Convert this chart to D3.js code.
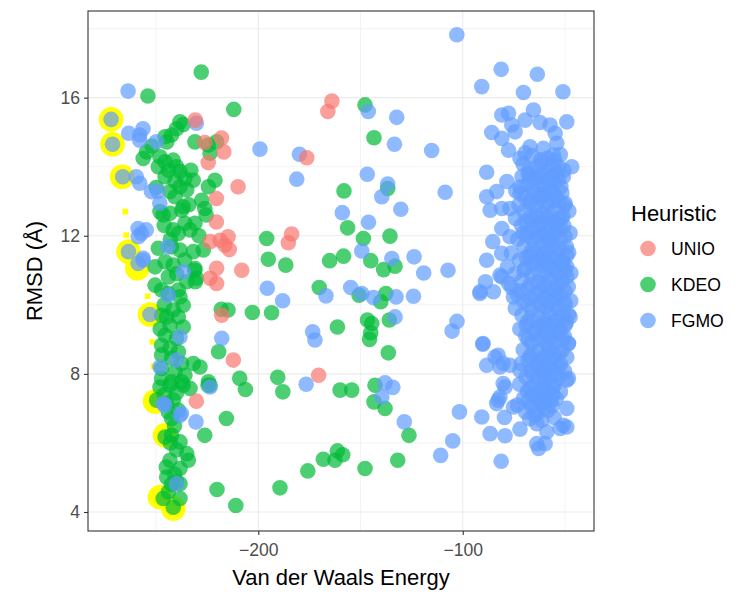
<!DOCTYPE html>
<html>
<head>
<meta charset="utf-8">
<script src="https://cdn.jsdelivr.net/npm/d3@7"></script>
<style>
  body { margin: 0; background: #fff; }
  text { font-family: "Liberation Sans", Arial, Helvetica, sans-serif; }
</style>
</head>
<body>
<script>
const width = 750;
const height = 600;

// Series and labels
const categories = ["UNIO", "KDEO", "FGMO"];
const colors = ["#F8766D", "#00BA38", "#619CFF"];

const unio = [
  [-164, 15.9], [-166, 15.6], [-176.3, 14.26], [-183.7, 12.05], [-185.3, 11.8],
  [-230.8, 15.35], [-218, 14.83], [-216.9, 14.43], [-224.5, 14.12], [-226.2, 14.7],
  [-209.9, 13.42], [-220.5, 13.08], [-220.5, 12.4], [-214.8, 11.97], [-223.6, 11.83],
  [-216.4, 11.73], [-214.2, 11.6], [-218.7, 11.87], [-220.4, 11.06], [-208.1, 11.0],
  [-223.6, 10.77], [-220.4, 10.62], [-217.9, 9.7], [-212.2, 8.4], [-230.3, 7.21],
  [-170.5, 7.96]
];

const kdeo = [
  // scattered
  [-227.9, 16.74], [-254, 16.05], [-212, 15.66], [-147.8, 15.79], [-143.4, 14.84],
  [-158.1, 13.3], [-136.7, 13.37], [-156.3, 12.23], [-195.9, 11.92], [-148.6, 11.92],
  [-135.6, 11.99], [-195.1, 11.32], [-186.6, 11.15], [-165.1, 11.28], [-158.3, 11.41],
  [-145, 11.28], [-138.7, 11.02], [-133.1, 11.12], [-170.2, 10.5], [-150.7, 10.28],
  [-137.6, 10.33], [-140.1, 10.09], [-193.5, 9.77], [-161.3, 9.36], [-146.6, 9.56],
  [-144.5, 9.46], [-135.9, 9.56], [-145, 9.19], [-145.6, 9.0], [-136.4, 8.61],
  [-190.5, 7.9], [-188, 7.48], [-160, 7.53], [-154.3, 7.53], [-142.9, 7.67],
  [-143.4, 7.19], [-138, 7.0], [-126.3, 6.22], [-168.2, 5.53], [-161.3, 5.77],
  [-158.7, 5.66], [-162.5, 5.5], [-175.8, 5.19], [-147.8, 5.26], [-131.8, 5.5],
  [-189.4, 4.7], [-202.9, 9.78], [-218.1, 9.87], [-214.8, 9.85], [-219.4, 8.64],
  [-209.1, 7.87], [-206.3, 7.55], [-224.6, 7.67], [-215.6, 6.71], [-226.2, 6.22],
  [-220.2, 4.65], [-211, 4.19], [-231.1, 11.0], [-230.8, 10.67],
  // upper column
  [-238.3, 15.3], [-236.7, 15.22], [-240, 15.1], [-245.6, 14.87], [-242.4, 14.92],
  [-244.8, 14.72], [-231, 14.72], [-224.4, 14.63], [-220.4, 14.72], [-223.6, 14.39],
  [-254.6, 14.43], [-256.3, 14.24], [-248.1, 14.29], [-245.6, 14.14], [-241.6, 14.19],
  [-240, 14.0], [-248.9, 14.0], [-244, 13.9], [-238.3, 13.86], [-245.6, 13.71],
  [-235.9, 13.66], [-240.7, 13.57], [-231.8, 13.61], [-238.3, 13.42], [-221.2, 13.61],
  [-224.4, 13.42], [-243.2, 13.28], [-235, 13.33], [-240.7, 13.13], [-227.7, 13.03],
  [-236.7, 12.84], [-226.2, 12.79], [-248.1, 12.7], [-246.5, 12.6], [-243.2, 12.65],
  [-237.5, 12.74], [-235.9, 12.36], [-231, 12.36], [-241.6, 12.17], [-239.1, 12.07],
  [-233.4, 12.17], [-225.5, 12.6], [-233, 13.9], [-250, 13.4], [-252, 14.6],
  [-246, 12.3], [-234, 12.9], [-229, 12.0],
  // middle column
  [-248.9, 11.64], [-242.4, 11.68], [-238.3, 11.59], [-231.8, 11.54], [-226.9, 11.59],
  [-250.5, 11.1], [-245.6, 11.25], [-241.6, 11.15], [-231, 11.05], [-230.2, 10.77],
  [-235, 10.67], [-244, 10.81], [-250.5, 10.57], [-247.3, 10.43], [-244, 10.33],
  [-239.1, 10.43], [-238.3, 10.23], [-236.7, 9.99], [-241.6, 9.85], [-247.3, 9.7],
  [-244.8, 9.65], [-239.1, 9.65], [-243.2, 9.41], [-236.7, 9.36], [-245.6, 9.12],
  [-240, 9.03], [-247.3, 8.83], [-243.2, 8.74], [-239.1, 8.64], [-247.3, 8.55],
  [-242.4, 8.45], [-237.5, 8.3], [-231.8, 8.3], [-228.5, 8.2], [-247.3, 8.16],
  [-240.7, 8.06], [-235.9, 7.96], [-247.3, 7.87], [-242.4, 7.77], [-237.5, 7.77],
  [-224.4, 7.77], [-243, 11.9], [-246, 10.0], [-240, 10.9], [-236, 11.3], [-248, 9.3],
  // lower column
  [-248.1, 7.62], [-243.2, 7.67], [-236.7, 7.67], [-233.4, 7.58], [-223.6, 7.67],
  [-249.7, 7.24], [-244.8, 7.14], [-241.6, 7.24], [-239.1, 6.95], [-242.4, 6.71],
  [-245.6, 6.17], [-242.4, 6.22], [-238.3, 6.03], [-235, 5.69], [-234.2, 5.5],
  [-243.2, 5.5], [-238.3, 5.26], [-244.8, 5.01], [-240, 4.87], [-238.3, 4.82],
  [-244, 4.58], [-238.3, 4.39], [-246.5, 4.39], [-241.6, 4.14], [-246, 7.4],
  [-240, 7.45], [-244, 6.9], [-241, 6.5], [-243, 6.0], [-240, 5.8], [-245, 5.3],
  [-241, 5.1], [-242.5, 4.8]
];

const fgmo = [
  // left group
  [-272, 15.37], [-271.3, 14.65], [-263.7, 16.19], [-263.4, 14.97], [-258, 14.92],
  [-256.4, 15.1], [-258, 14.77], [-249.9, 14.72], [-230.3, 15.26], [-199.2, 14.51],
  [-266.3, 13.71], [-259.7, 13.71], [-258, 13.52], [-252.3, 13.28], [-249.1, 13.28],
  [-248.2, 12.94], [-258.8, 12.21], [-254.8, 12.17], [-257.2, 12.07], [-244.2, 11.68],
  [-256.4, 11.29], [-258.8, 11.2], [-258.7, 11.97], [-263.5, 11.54], [-256.3, 11.35],
  [-236.7, 10.96], [-244, 10.28], [-253, 9.72], [-238.3, 9.07], [-240, 8.4],
  [-248.1, 8.2], [-217.9, 9.03], [-223.6, 7.62], [-246.5, 7.14], [-238.3, 6.8],
  [-230.5, 6.61], [-240, 4.82], [-245.8, 7.09], [-237.6, 6.85],
  // middle
  [-102.9, 17.82], [-179.9, 14.36], [-146.2, 15.6], [-132.3, 15.43], [-133.4, 14.65],
  [-115.2, 14.47], [-181.2, 13.64], [-146.7, 13.78], [-136.7, 13.5], [-139.6, 13.13],
  [-130.3, 12.77], [-108.6, 13.26], [-158.9, 12.67], [-146.1, 12.39], [-149.4, 11.56],
  [-134.7, 11.34], [-123.8, 11.39], [-119.1, 10.92], [-107.2, 11.0], [-195.6, 10.48],
  [-188.1, 10.12], [-166.9, 10.26], [-154.8, 10.5], [-149.4, 10.33], [-143.7, 10.21],
  [-132.6, 10.23], [-124.1, 10.25], [-133.1, 9.65], [-173.4, 9.22], [-172.3, 8.98],
  [-105.2, 9.24], [-102.8, 9.52], [-176.6, 7.7], [-138, 7.74], [-134.2, 7.61],
  [-139.6, 7.33], [-128.6, 6.61], [-101.6, 6.9], [-104.9, 6.06], [-110.8, 5.64],
  // right cluster, outer
  [-81.2, 16.82], [-63.5, 16.68], [-90.7, 16.32], [-70.3, 16.15], [-51, 16.17],
  [-49.1, 15.3], [-80.9, 15.5], [-77.6, 15.55], [-65.4, 15.64], [-69.5, 15.35],
  [-62.2, 15.28], [-76, 15.21], [-85.8, 14.99], [-80.9, 14.82], [-74.4, 15.01],
  [-57.3, 15.21], [-54.8, 14.97], [-54, 14.68], [-77.6, 14.48], [-67.1, 14.58],
  [-60.6, 14.53], [-72, 14.24], [-69.5, 14.4], [-55.6, 14.34], [-46.7, 14.0],
  [-53.2, 14.0], [-88.3, 13.84], [-50.8, 13.71], [-63.8, 14.0], [-62.2, 13.71],
  [-78.4, 13.57], [-83.4, 13.28], [-72, 13.42], [-67.1, 13.71], [-58.9, 13.42],
  [-88.3, 13.13], [-72, 13.23], [-60.6, 13.18], [-86.6, 12.74], [-80.9, 12.79],
  [-76.9, 12.79], [-67.1, 12.94], [-55.6, 13.03], [-49.9, 12.94], [-51.6, 12.5],
  [-67.1, 12.55], [-62.2, 12.36], [-80.9, 12.21], [-54, 12.31], [-85.3, 11.83],
  [-76.9, 11.97], [-70.4, 12.07], [-63.8, 11.97], [-57.3, 11.87], [-88.3, 11.29],
  [-80.9, 11.49], [-49.1, 11.44], [-50.8, 11.2], [-67.1, 11.39], [-60.6, 11.29],
  [-80.9, 10.81], [-88.9, 10.67], [-91.5, 10.38], [-85, 10.38], [-77.6, 10.62],
  [-75.2, 10.23], [-90.1, 8.88], [-84.2, 8.49], [-88.3, 8.25], [-80.2, 8.3],
  [-72, 8.1], [-80.2, 7.72], [-81.8, 7.33], [-83.4, 7.14], [-75.2, 7.04],
  [-90.7, 6.75], [-79.6, 6.74], [-86.6, 6.27], [-79.3, 6.21], [-72, 6.4],
  [-63.8, 6.56], [-58.9, 6.32], [-63.8, 5.98], [-49.1, 7.0], [-50.8, 6.51],
  [-49.1, 7.82], [-48.3, 8.88], [-47.5, 9.65], [-49.1, 10.81], [-81.8, 10.86],
  [-91.6, 10.33], [-90.2, 8.86], [-82.7, 8.54], [-81.8, 8.2], [-76.9, 8.25],
  [-48.3, 7.87], [-82.7, 7.24], [-79.3, 7.62], [-62.9, 5.84], [-59.7, 5.98],
  [-49.1, 6.46], [-52.4, 6.42], [-81.2, 5.47],
  // right cluster, core
  [-66, 14.32], [-58.5, 14.25], [-52.3, 14.35], [-70.5, 14.08], [-61.2, 14.12], [-56.5, 14.05],
  [-67.4, 13.92], [-59.1, 13.86], [-50.5, 13.9], [-71, 13.72], [-64.3, 13.66], [-56, 13.74],
  [-53.2, 13.62], [-68.1, 13.5], [-60.5, 13.46], [-55.2, 13.54], [-74, 13.3], [-65.3, 13.28],
  [-57.1, 13.34], [-51.5, 13.24], [-69.4, 13.1], [-62.2, 13.06], [-54.3, 13.14], [-72.5, 12.9],
  [-64.1, 12.86], [-58.3, 12.94], [-50.2, 12.88], [-70.2, 12.7], [-61, 12.66], [-55.4, 12.74],
  [-48.1, 12.72], [-74.2, 12.5], [-66.3, 12.46], [-59.2, 12.54], [-53.1, 12.48], [-71.3, 12.3],
  [-63.2, 12.26], [-57.4, 12.34], [-50.5, 12.28], [-68.3, 12.1], [-60.1, 12.06], [-54.2, 12.14],
  [-47.5, 12.08], [-73.1, 11.9], [-65.4, 11.86], [-58.2, 11.94], [-52.3, 11.88], [-70.1, 11.7],
  [-62.4, 11.66], [-56.2, 11.74], [-49.3, 11.68], [-76.2, 11.5], [-67.1, 11.46], [-60.3, 11.54],
  [-54.1, 11.48], [-48.2, 11.52], [-72.3, 11.3], [-64.2, 11.26], [-57.5, 11.34], [-51.2, 11.28],
  [-78.1, 11.1], [-69.3, 11.06], [-61.2, 11.14], [-55.4, 11.08], [-49.2, 11.12], [-74.4, 10.9],
  [-66.1, 10.86], [-59.3, 10.94], [-53.2, 10.88], [-47.1, 10.92], [-71.2, 10.7], [-63.4, 10.66],
  [-57.2, 10.74], [-51.3, 10.68], [-76.1, 10.5], [-68.2, 10.46], [-60.4, 10.54], [-54.3, 10.48],
  [-48.4, 10.52], [-73.2, 10.3], [-65.1, 10.26], [-58.4, 10.34], [-52.2, 10.28], [-70.3, 10.1],
  [-62.1, 10.06], [-56.3, 10.14], [-50.1, 10.08], [-47.2, 10.12], [-74.3, 9.9], [-66.2, 9.86],
  [-59.1, 9.94], [-53.4, 9.88], [-71.1, 9.7], [-63.3, 9.66], [-57.3, 9.74], [-51.1, 9.68],
  [-48.2, 9.72], [-68.3, 9.5], [-60.2, 9.46], [-55.1, 9.54], [-49.4, 9.48], [-72.1, 9.3],
  [-64.4, 9.26], [-58.1, 9.34], [-52.4, 9.28], [-69.2, 9.1], [-61.3, 9.06], [-56.1, 9.14],
  [-50.3, 9.08], [-66.4, 8.9], [-59.2, 8.86], [-54.4, 8.94], [-48.3, 8.88], [-70.4, 8.7],
  [-63.1, 8.66], [-57.4, 8.74], [-51.4, 8.68], [-67.2, 8.5], [-60.3, 8.46], [-55.3, 8.54],
  [-49.1, 8.48], [-71.4, 8.3], [-64.3, 8.26], [-58.2, 8.34], [-52.1, 8.28], [-66.3, 8.1],
  [-61.4, 8.06], [-56.4, 8.14], [-50.2, 8.08], [-69.1, 7.9], [-63.2, 7.86], [-57.2, 7.94],
  [-53.3, 7.88], [-72.2, 7.7], [-65.2, 7.66], [-60.1, 7.74], [-55.2, 7.68], [-68.4, 7.5],
  [-62.3, 7.46], [-58.4, 7.54], [-52.2, 7.48], [-70.2, 7.3], [-64.1, 7.26], [-59.3, 7.34],
  [-54.2, 7.28], [-73.3, 7.1], [-66.4, 7.06], [-61.1, 7.14], [-56.3, 7.08], [-69.3, 6.9],
  [-63.4, 6.86], [-58.3, 6.94], [-67.3, 6.7], [-61.3, 6.66], [-55.3, 6.74],
  // right cluster, core fill
  [-62, 14.2], [-55, 14.18], [-68, 13.8], [-61.5, 13.78], [-54, 13.82], [-58, 13.58],
  [-66, 13.4], [-52, 13.42], [-62, 13.2], [-56, 13.22], [-67, 13.0], [-60, 12.98],
  [-53, 13.0], [-64, 12.6], [-57, 12.62], [-51, 12.58], [-69, 12.4], [-61, 12.4],
  [-55, 12.38], [-66, 12.2], [-58, 12.18], [-52, 12.2], [-69, 12.0], [-62, 11.98],
  [-56, 12.0], [-50, 11.98], [-66, 11.6], [-59, 11.58], [-53, 11.62], [-69, 11.38],
  [-61, 11.4], [-55, 11.36], [-66, 11.2], [-58, 11.18], [-52, 11.2], [-70, 11.0],
  [-63, 10.98], [-56, 11.0], [-50, 10.98], [-67, 10.6], [-60, 10.62], [-54, 10.6],
  [-72, 10.4], [-62, 10.4], [-56, 10.38], [-50, 10.4], [-67, 10.2], [-60, 10.18],
  [-54, 10.2], [-68, 10.0], [-62, 9.98], [-56, 10.0], [-50, 9.98], [-67, 9.6],
  [-60, 9.58], [-53, 9.6], [-69, 9.4], [-62, 9.38], [-56, 9.4], [-50, 9.4],
  [-65, 9.2], [-59, 9.18], [-53, 9.2], [-68, 9.0], [-63, 8.98], [-57, 9.0],
  [-51, 9.0], [-66, 8.6], [-59, 8.6], [-53, 8.6], [-68, 8.4], [-61, 8.38],
  [-55, 8.4], [-63, 8.2], [-58, 8.18], [-53, 8.2], [-66, 8.0], [-60, 7.98],
  [-55, 8.0], [-67, 7.6], [-61, 7.58], [-56, 7.6], [-66, 7.4], [-60, 7.38],
  [-56, 7.4], [-68, 7.2], [-62, 7.18], [-57, 7.2], [-60, 7.0], [-65, 6.8]
];

// highlighted structures (yellow)
const highlightRings = [
  [-272, 15.37], [-271.3, 14.65], [-266.6, 13.71], [-263.5, 11.54], [-259.2, 11.06],
  [-253, 9.72], [-250.5, 7.2], [-245.6, 6.22], [-248.1, 4.43], [-241.6, 4.1]
];
const highlightSquares = [
  [-265.1, 12.7], [-264.6, 12.02], [-254.1, 10.25], [-251.8, 8.93], [-251.2, 8.22]
];

const xTicks = [-200, -100];
const xMinor = [-250, -150, -50];
const yTicks = [4, 8, 12, 16];
const yMinor = [6, 10, 14, 18];

// panel box
const panel = { left: 88, right: 594, top: 11, bottom: 531 };

const x = d3.scaleLinear().domain([-283.3, -35.8]).range([panel.left, panel.right]);
const y = d3.scaleLinear().domain([3.45, 18.51]).range([panel.bottom, panel.top]);
const color = d3.scaleOrdinal().domain(categories).range(colors);

const svg = d3.select("body").append("svg")
  .attr("width", width)
  .attr("height", height);

svg.append("rect")
  .attr("x", panel.left).attr("y", panel.top)
  .attr("width", panel.right - panel.left).attr("height", panel.bottom - panel.top)
  .attr("fill", "#fff");

// grid
const grid = svg.append("g").attr("stroke", "#EBEBEB");
grid.selectAll(".xminor").data(xMinor).join("line")
  .attr("x1", d => x(d)).attr("x2", d => x(d))
  .attr("y1", panel.top).attr("y2", panel.bottom)
  .attr("stroke-width", 0.6);
grid.selectAll(".yminor").data(yMinor).join("line")
  .attr("y1", d => y(d)).attr("y2", d => y(d))
  .attr("x1", panel.left).attr("x2", panel.right)
  .attr("stroke-width", 0.6);
grid.selectAll(".xmajor").data(xTicks).join("line")
  .attr("x1", d => x(d)).attr("x2", d => x(d))
  .attr("y1", panel.top).attr("y2", panel.bottom)
  .attr("stroke-width", 1.1);
grid.selectAll(".ymajor").data(yTicks).join("line")
  .attr("y1", d => y(d)).attr("y2", d => y(d))
  .attr("x1", panel.left).attr("x2", panel.right)
  .attr("stroke-width", 1.1);

// yellow highlights
svg.append("g").selectAll("circle")
  .data(highlightRings)
  .join("circle")
    .attr("cx", d => x(d[0]))
    .attr("cy", d => y(d[1]))
    .attr("r", 12.3)
    .attr("fill", "#FFFF00");

svg.append("g").selectAll("rect")
  .data(highlightSquares)
  .join("rect")
    .attr("x", d => x(d[0]) - 2.8)
    .attr("y", d => y(d[1]) - 2.8)
    .attr("width", 5.6)
    .attr("height", 5.6)
    .attr("fill", "#FFFF00");

// points
const series = [
  { name: "KDEO", values: kdeo },
  { name: "FGMO", values: fgmo },
  { name: "UNIO", values: unio }
];
series.forEach(s => {
  svg.append("g").selectAll("circle")
    .data(s.values)
    .join("circle")
      .attr("cx", d => x(d[0]))
      .attr("cy", d => y(d[1]))
      .attr("r", 7.8)
      .attr("fill", color(s.name))
      .attr("fill-opacity", 0.7);
});

// panel border
svg.append("rect")
  .attr("x", panel.left).attr("y", panel.top)
  .attr("width", panel.right - panel.left).attr("height", panel.bottom - panel.top)
  .attr("fill", "none")
  .attr("stroke", "#333333")
  .attr("stroke-width", 1.1);

// axes
const xAxis = svg.append("g")
  .attr("transform", `translate(0,${panel.bottom})`)
  .call(d3.axisBottom(x).tickValues(xTicks).tickSize(4).tickPadding(9).tickFormat(d3.format("d")));
const yAxis = svg.append("g")
  .attr("transform", `translate(${panel.left},0)`)
  .call(d3.axisLeft(y).tickValues(yTicks).tickSize(4).tickPadding(4).tickFormat(d3.format("d")));
[xAxis, yAxis].forEach(a => {
  a.select(".domain").remove();
  a.selectAll(".tick line").attr("stroke", "#333333").attr("stroke-width", 1.1);
  a.selectAll(".tick text")
    .attr("fill", "#4D4D4D")
    .style("font-size", "17.6px")
    .style("font-family", "'Liberation Sans', Arial, sans-serif");
});

// axis titles
svg.append("text")
  .attr("x", (panel.left + panel.right) / 2)
  .attr("y", 585)
  .attr("text-anchor", "middle")
  .style("font-size", "22px")
  .text("Van der Waals Energy");

svg.append("text")
  .attr("transform", `translate(42,${(panel.top + panel.bottom) / 2}) rotate(-90)`)
  .attr("text-anchor", "middle")
  .style("font-size", "22px")
  .text("RMSD (Å)");

// legend
const legend = svg.append("g");
legend.append("text")
  .attr("x", 631)
  .attr("y", 221)
  .style("font-size", "22px")
  .text("Heuristic");

const keys = legend.selectAll(".key")
  .data(categories)
  .join("g")
    .attr("transform", (d, i) => `translate(648,${248.5 + i * 36})`);
keys.append("circle")
  .attr("r", 7.8)
  .attr("fill", d => color(d))
  .attr("fill-opacity", 0.7);
keys.append("text")
  .attr("x", 23)
  .attr("dy", "0.36em")
  .style("font-size", "17.6px")
  .text(d => d);
</script>
</body>
</html>
